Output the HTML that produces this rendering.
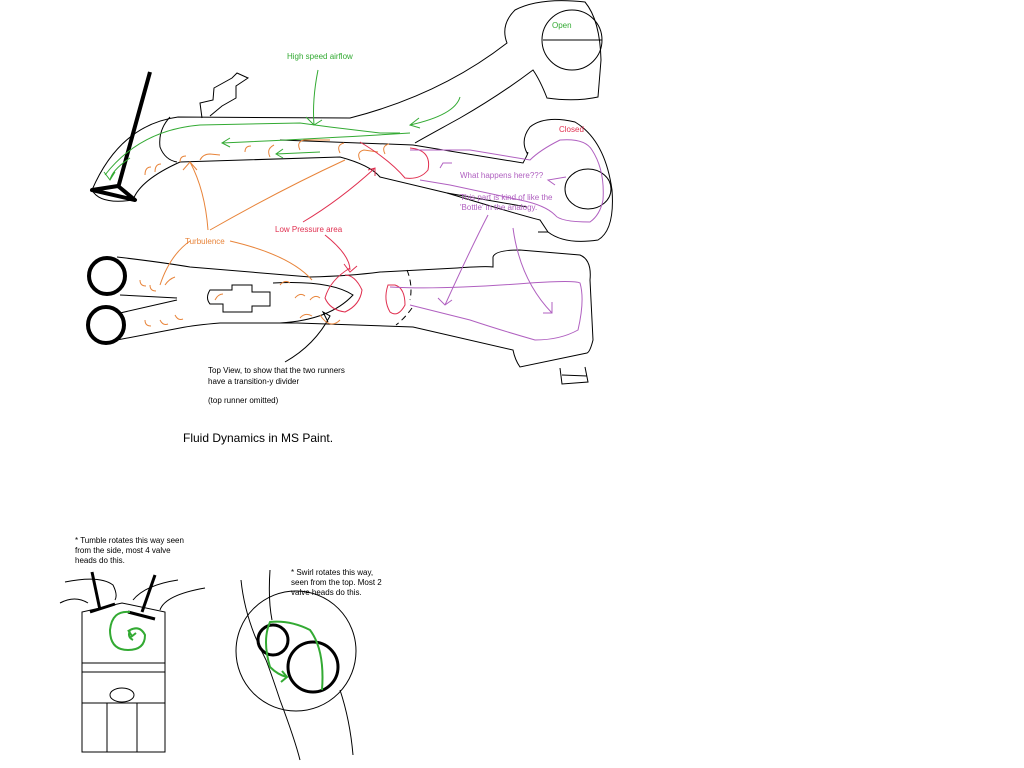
<!DOCTYPE html>
<html><head><meta charset="utf-8"><style>
html,body{margin:0;padding:0;background:#fff;width:1024px;height:768px;overflow:hidden}
svg{display:block}
text{font-family:"Liberation Sans",sans-serif;font-size:8px}
</style></head><body>
<svg width="1024" height="768" viewBox="0 0 1024 768" xmlns="http://www.w3.org/2000/svg">
<g fill="none" stroke="#000" stroke-width="1">
<path d="M92,190 Q120,125 178,117 L350,118 Q440,95 507,43 Q500,25 515,10 Q540,-3 585,2 Q600,20 601,60 L598,97 Q575,102 547,98 Q540,80 533,70 Q500,95 460,118 Q420,140 415,143"/>
<path d="M92,190 Q100,205 133,200 Q140,180 180,162 L340,157 Q370,165 380,177 L447,193 L527,207"/>
<path d="M170,117 Q158,130 160,147 Q165,160 177,162"/>
<path d="M280,140 L413,145 L523,163 Q530,150 527,153 Q520,140 530,127 Q545,115 575,122 Q605,140 612,190 Q615,230 598,240 Q565,245 548,232 L540,220 Q520,215 447,193"/>
<circle cx="572" cy="40" r="30"/>
<line x1="543" y1="40" x2="602" y2="40"/>
<ellipse cx="588" cy="189" rx="23" ry="20"/>
<path d="M538,232 L548,232" />
<path d="M202,118 L200,103 L213,100 L214,88 L232,78 L237,73 L248,78 L236,86 L236,98 L222,106 L210,116"/>
<path d="M117,257 Q160,262 190,267 L310,277 Q350,276 380,272 L457,268 Q485,266 493,267 L493,257 Q495,250 520,250 L580,255 Q592,260 590,280 L593,340 Q590,352 587,353 L520,367 Q515,360 513,350 L413,327 L297,323 L220,323 Q195,325 180,328 L117,340"/>
<path d="M585,367 L588,382 L562,384 L560,368"/>
<path d="M562,375 L587,376"/>
<path d="M120,295 L177,298"/><path d="M120,313 L177,300"/>
<path d="M273,283 Q330,280 353,295 Q330,320 280,323"/>
<path d="M210,290 Q205,298 210,304 L223,304 L223,312 L252,312 L252,306 L270,306 L270,292 L252,292 L252,285 L232,285 L232,290 Z"/>
<path d="M407,270 Q413,285 410,300 M412,308 Q405,318 396,325" stroke-dasharray="6,4"/>
<path d="M328,322 L323,312 L330,316 Q315,345 285,362"/>
</g>
<g fill="none" stroke="#000" stroke-width="4" stroke-linejoin="round">
<path d="M150,72 L118,188"/>
<path d="M92,190 L118,186 L135,200 Z"/>
<circle cx="107" cy="276" r="18"/>
<circle cx="106" cy="325" r="18"/>
</g>
<g fill="none" stroke="#3a3" stroke-width="1">
<path d="M105,175 Q140,130 200,125 L300,123 L330,127 L380,133 L400,133"/>
<path d="M318,70 Q312,100 314,125 M306,117 L314,125 L322,120"/>
<path d="M460,97 Q455,115 410,125 M419,118 L410,125 L420,128"/>
<path d="M410,133 Q330,138 222,143 M230,138 L222,143 L230,147"/>
<path d="M320,152 L276,154 M283,149 L276,154 L283,158"/>
<path d="M130,158 Q112,170 110,180 M104,172 L110,180 L115,172"/>
</g>
<g fill="none" stroke="#e8843a" stroke-width="1">
<path d="M208,230 Q205,190 190,162 M183,170 L190,162 L197,170"/>
<path d="M210,230 Q280,190 345,160"/>
<path d="M190,241 Q170,255 160,285"/>
<path d="M230,241 Q290,255 312,280"/>
<path d="M145,175 q0,-8 6,-8 M155,172 q0,-8 6,-8 M180,162 q0,-6 6,-6 M200,160 q3,-6 10,-6 L220,155 M245,152 q0,-6 6,-6 M270,157 q-4,-8 4,-12 M300,150 q-4,-8 4,-10 L330,140 M340,153 q-4,-8 4,-10 M360,160 q-4,-8 4,-10 L378,152 M385,154 q-4,-8 4,-10"/>
<path d="M140,280 q0,6 6,6 M150,285 q0,6 6,6 M165,285 q4,-6 10,-8 M145,320 q0,6 6,6 M160,320 q3,6 8,4 M175,315 q3,6 8,4 M215,300 q3,-6 8,-6 M280,285 q5,-6 10,-2 M295,298 q5,-6 10,-2 M310,300 q5,-6 10,-2 M300,318 q5,-6 12,-2 M320,315 Q330,330 340,320"/>
</g>
<g fill="none" stroke="#e03050" stroke-width="1">
<path d="M303,222 Q340,200 375,168 M368,170 L375,168 L375,176"/>
<path d="M325,235 Q350,255 350,270 M344,264 L350,272 L357,266"/>
<path d="M360,142 Q390,160 405,178 Q420,180 428,170 Q432,150 410,148"/>
<path d="M350,268 Q330,280 325,298 Q330,310 345,312 Q360,305 362,290 Q355,275 345,275"/>
<path d="M388,285 Q383,300 390,312 Q398,318 405,305 Q405,288 395,285 Z"/>
</g>
<g fill="none" stroke="#b060c0" stroke-width="1">
<path d="M410,150 L470,150 L530,160 Q540,150 560,140 Q585,138 592,150 Q605,170 603,200 Q600,215 590,222 Q560,222 555,215 Q545,205 520,200 L450,185 L420,180"/>
<path d="M440,168 L443,163 L452,163 M555,185 L548,180 L566,177"/>
<path d="M488,215 Q470,250 445,305 M438,298 L445,305 L452,300"/>
<path d="M513,228 Q520,280 552,313 M543,313 L552,313 L552,302"/>
<path d="M390,287 Q440,290 530,283 Q575,280 580,283 Q585,300 578,330 Q560,340 535,340 Q500,330 470,320 L410,305"/>
</g>
<g fill="none" stroke="#000" stroke-width="1">
<path d="M82,612 L82,752 L165,752 L165,612 L122,603 Z"/>
<path d="M82,663 L165,663 M82,672 L165,672 M82,703 L165,703 M107,703 L107,752 M137,703 L137,752"/>
<ellipse cx="122" cy="695" rx="12" ry="7"/>
<path d="M65,582 Q100,575 113,585 Q118,595 115,600 M60,603 Q75,595 88,603 M133,600 Q145,585 178,580 M160,610 Q165,595 205,588"/>
<circle cx="296" cy="651" r="60"/>
<path d="M241,580 Q245,620 266,660 Q270,670 280,700 Q295,740 300,760"/>
<path d="M270,570 Q268,600 272,620 M340,690 Q350,720 353,755"/>
</g>
<g fill="none" stroke="#000" stroke-width="3">
<path d="M92,572 L100,610 M90,612 L115,604 M155,575 L142,612 M128,612 L155,619"/>
<circle cx="273" cy="640" r="15"/>
<circle cx="313" cy="667" r="25"/>
</g>
<g fill="none" stroke="#3a3" stroke-width="2">
<path d="M130,612 Q112,610 110,630 Q110,650 128,650 Q145,650 145,635 Q140,625 130,630 Q127,637 133,640 M128,630 L132,636 M131,637 L136,633"/>
<path d="M322,690 Q325,650 310,630 Q290,620 270,622 Q262,640 270,667 Q278,675 287,677 M282,671 L287,677 L281,682"/>
</g>
<g>
<text x="287" y="59" fill="#3a3">High speed airflow</text>
<text x="552" y="28" fill="#3a3">Open</text>
<text x="559" y="132" fill="#e03050">Closed</text>
<text x="460" y="178" fill="#b060c0">What happens here???</text>
<text x="460" y="200" fill="#b060c0">This part is kind of like the</text>
<text x="460" y="210" fill="#b060c0">'Bottle' in the analogy.</text>
<text x="185" y="244" fill="#e8843a">Turbulence</text>
<text x="275" y="232" fill="#e03050">Low Pressure area</text>
<text x="208" y="373" fill="#000">Top View, to show that the two runners</text>
<text x="208" y="384" fill="#000">have a transition-y divider</text>
<text x="208" y="403" fill="#000">(top runner omitted)</text>
<text x="183" y="442" fill="#000" style="font-size:12px">Fluid Dynamics in MS Paint.</text>
<text x="75" y="543" fill="#000">* Tumble rotates this way seen</text>
<text x="75" y="553" fill="#000">from the side, most 4 valve</text>
<text x="75" y="563" fill="#000">heads do this.</text>
<text x="291" y="575" fill="#000">* Swirl rotates this way,</text>
<text x="291" y="585" fill="#000">seen from the top.  Most 2</text>
<text x="291" y="595" fill="#000">valve heads do this.</text>
</g>
</svg>
</body></html>
